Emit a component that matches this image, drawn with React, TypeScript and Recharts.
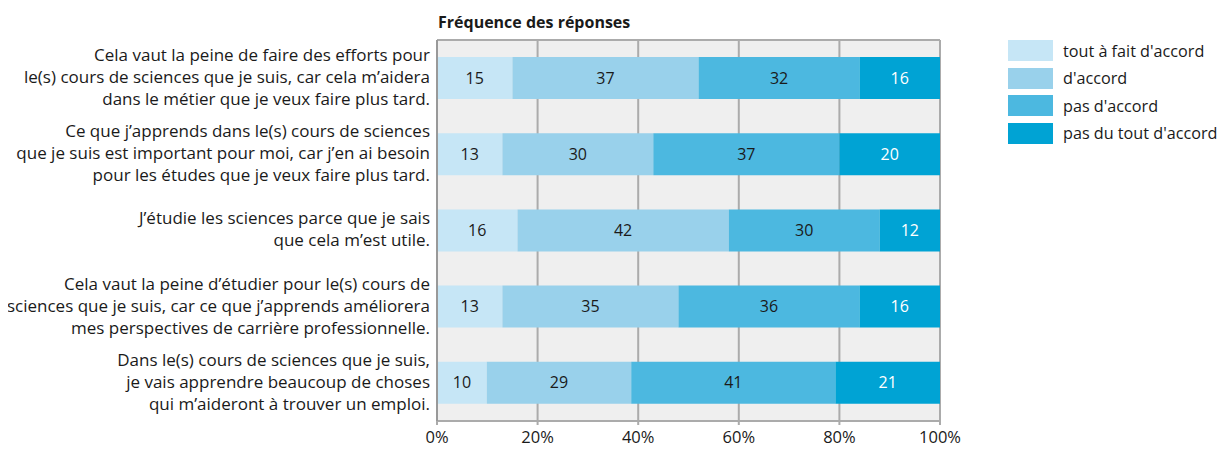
import { Bar, BarChart, CartesianGrid, LabelList, XAxis, YAxis } from 'recharts';

// statements (one row each), already broken into lines as in the source
const statements: string[][] = [
    ['Cela vaut la peine de faire des efforts pour', 'le(s) cours de sciences que je suis, car cela m’aidera', 'dans le métier que je veux faire plus tard.'],
    ['Ce que j’apprends dans le(s) cours de sciences', 'que je suis est important pour moi, car j’en ai besoin', 'pour les études que je veux faire plus tard.'],
    ['J’étudie les sciences parce que je sais', 'que cela m’est utile.'],
    ['Cela vaut la peine d’étudier pour le(s) cours de', 'sciences que je suis, car ce que j’apprends améliorera', 'mes perspectives de carrière professionnelle.'],
    ['Dans le(s) cours de sciences que je suis,', 'je vais apprendre beaucoup de choses', 'qui m’aideront à trouver un emploi.'],
];

const toutAFait = [15, 13, 16, 13, 10];
const dAccord = [37, 30, 42, 35, 29];
const pasDAccord = [32, 37, 30, 36, 41];
const pasDuTout = [16, 20, 12, 16, 21];

const xTicks = [0, 0.2, 0.4, 0.6, 0.8, 1];

const series = [
    { key: 'toutAFait', name: "tout à fait d'accord", color: '#c6e6f6', text: '#1a1a1a' },
    { key: 'dAccord', name: "d'accord", color: '#99d1eb', text: '#1a1a1a' },
    { key: 'pasDAccord', name: "pas d'accord", color: '#4cb8e0', text: '#1a1a1a' },
    { key: 'pasDuTout', name: "pas du tout d'accord", color: '#00a3d4', text: '#ffffff' },
];

const data = statements.map((lines, i) => ({
    idx: i,
    toutAFait: toutAFait[i],
    dAccord: dAccord[i],
    pasDAccord: pasDAccord[i],
    pasDuTout: pasDuTout[i],
}));

const FONT = '"Open Sans", "Noto Sans", sans-serif';

const StatementTick = ({ x, y, payload }: any) => {
    const lines = statements[payload.value] || [];
    const start = -((lines.length - 1) * 22) / 2;
    return (
        <text x={x} y={y} textAnchor="end" fontSize={17} fill="#1a1a1a" fontFamily={FONT}>
            {lines.map((l, i) => (
                <tspan key={i} x={x} y={y + start + i * 22 - 1} dy="0.35em">
                    {l}
                </tspan>
            ))}
        </text>
    );
};

export default function App() {
    return (
        <div style={{ position: 'relative', width: 1212, height: 441, fontFamily: FONT }}>
            <div style={{ position: 'absolute', left: 430, top: 3, fontSize: 16, fontWeight: 700, color: '#1a1a1a' }}>
                Fréquence des réponses
            </div>
            <BarChart
                width={1212}
                height={441}
                data={data}
                layout="vertical"
                stackOffset="expand"
                barSize={42}
                margin={{ top: 32, right: 280, bottom: 0, left: 0 }}
            >
                <CartesianGrid
                    fill="#efefef"
                    stroke="#ababab"
                    strokeWidth={2}
                    horizontalPoints={[32, 413]}
                />
                <XAxis
                    type="number"
                    domain={[0, 1]}
                    ticks={xTicks}
                    height={28}
                    axisLine={false}
                    tickSize={4}
                    tickLine={{ stroke: '#ababab', strokeWidth: 2 }}
                    tick={{ fill: '#1a1a1a', fontSize: 16.5, fontFamily: FONT }}
                    tickMargin={6}
                    tickFormatter={(v) => `${Math.round(v * 100)}%`}
                />
                <YAxis
                    type="category"
                    dataKey="idx"
                    width={429}
                    axisLine={{ stroke: '#999999', strokeWidth: 2 }}
                    tickLine={false}
                    tickSize={0}
                    tickMargin={7}
                    tick={<StatementTick />}
                    interval={0}
                />
                {series.map((s) => (
                    <Bar key={s.key} dataKey={s.key} name={s.name} stackId="a" fill={s.color} isAnimationActive={false}>
                        <LabelList
                            position="center"
                            valueAccessor={(e: any) => e.payload?.[s.key]}
                            fill={s.text}
                            fontSize={16}
                            fontFamily={FONT}
                        />
                    </Bar>
                ))}
            </BarChart>
            <div style={{ position: 'absolute', left: 1000, top: 29 }}>
                {series.map((s) => (
                    <div key={s.key} style={{ display: 'flex', alignItems: 'center', height: 27.5 }}>
                        <div style={{ width: 45, height: 21, background: s.color, marginRight: 10 }} />
                        <span style={{ fontSize: 16.2, color: '#1a1a1a', whiteSpace: 'nowrap' }}>{s.name}</span>
                    </div>
                ))}
            </div>
        </div>
    );
}
